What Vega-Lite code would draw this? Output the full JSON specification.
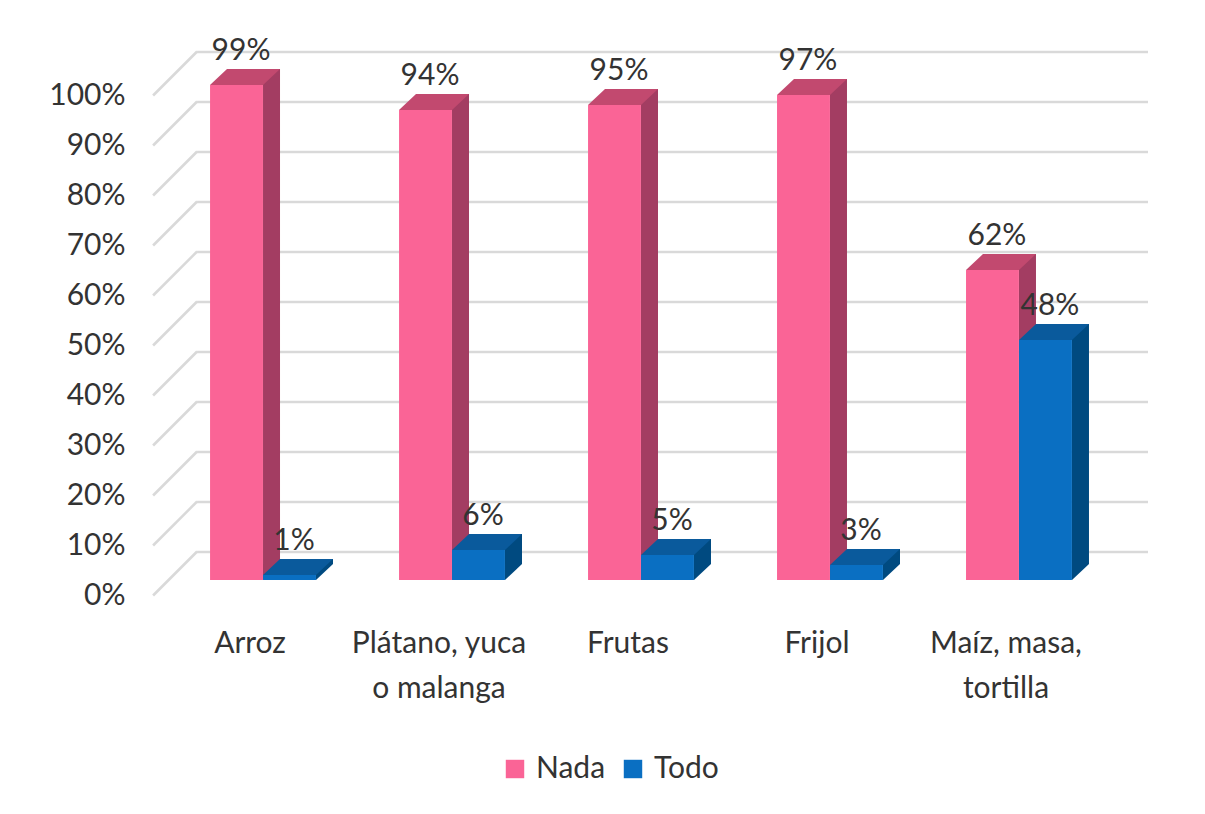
{
  "$schema": "https://vega.github.io/schema/vega-lite/v6.json",
  "width": 982,
  "height": 500,
  "autosize": {"type": "none"},
  "padding": {"left": 150, "top": 80, "right": 73, "bottom": 234},
  "background": "white",
  "config": {
    "font": "Lato",
    "view": {"stroke": null},
    "axis": {"labelFont": "Lato", "labelColor": "#333333", "labelFontSize": 30}
  },
  "datasets": {
    "bars": [
      {"alimento": "Arroz", "serie": "Nada", "valor": 0.99},
      {"alimento": "Arroz", "serie": "Todo", "valor": 0.01},
      {"alimento": "Plátano, yuca o malanga", "serie": "Nada", "valor": 0.94},
      {"alimento": "Plátano, yuca o malanga", "serie": "Todo", "valor": 0.06},
      {"alimento": "Frutas", "serie": "Nada", "valor": 0.95},
      {"alimento": "Frutas", "serie": "Todo", "valor": 0.05},
      {"alimento": "Frijol", "serie": "Nada", "valor": 0.97},
      {"alimento": "Frijol", "serie": "Todo", "valor": 0.03},
      {"alimento": "Maíz, masa, tortilla", "serie": "Nada", "valor": 0.62},
      {"alimento": "Maíz, masa, tortilla", "serie": "Todo", "valor": 0.48}
    ],
    "grid": [
      {"g": 0}, {"g": 0.1}, {"g": 0.2}, {"g": 0.3}, {"g": 0.4}, {"g": 0.5},
      {"g": 0.6}, {"g": 0.7}, {"g": 0.8}, {"g": 0.9}, {"g": 1}
    ]
  },
  "encoding": {
    "x": {
      "field": "alimento",
      "type": "nominal",
      "sort": null,
      "scale": {"domain": ["Arroz", "Plátano, yuca o malanga", "Frutas", "Frijol", "Maíz, masa, tortilla"], "paddingInner": 0.44, "paddingOuter": 0.318},
      "axis": {
        "title": null,
        "domain": false,
        "ticks": false,
        "labelAngle": 0,
        "labelPadding": 48,
        "labelOffset": -13,
        "labelBaseline": "top",
        "labelLineHeight": 45,
        "labelExpr": "datum.value == 'Plátano, yuca o malanga' ? ['Plátano, yuca', 'o malanga'] : datum.value == 'Maíz, masa, tortilla' ? ['Maíz, masa,', 'tortilla'] : datum.value"
      }
    }
  },
  "layer": [
    {
      "data": {"name": "grid"},
      "mark": {"type": "rule", "color": "#D9D9D9", "strokeWidth": 2.5, "yOffset": -28, "xOffset": -13, "x2Offset": 129},
      "encoding": {
        "x": {"datum": "Arroz", "bandPosition": 0},
        "x2": {"datum": "Maíz, masa, tortilla"},
        "y": {"field": "g", "type": "quantitative", "scale": {"domain": [0, 1], "nice": false},
          "axis": {"title": null, "domain": false, "ticks": false, "grid": false, "values": [0,0.1,0.2,0.3,0.4,0.5,0.6,0.7,0.8,0.9,1], "format": ".0%", "labelPadding": 25, "labelOffset": 15}}
      }
    },
    {
      "data": {"name": "grid"},
      "mark": {"type": "point", "shape": "M-1,1L1,-1", "size": 1936, "filled": false, "stroke": "#D9D9D9", "strokeWidth": 2.5, "opacity": 1, "xOffset": -35, "yOffset": -6.5},
      "encoding": {
        "x": {"datum": "Arroz", "bandPosition": 0},
        "y": {"field": "g", "type": "quantitative"}
      }
    },
    {
      "data": {"name": "bars"},
      "transform": [{"filter": "datum.serie == 'Nada'"}],
      "mark": {"type": "bar", "color": "#A33D62", "width": 17, "xOffset": 8.5, "yOffset": -16, "y2Offset": -16},
      "encoding": {"y": {"field": "valor", "type": "quantitative"}}
    },
    {
      "data": {"name": "bars"},
      "transform": [{"filter": "datum.serie == 'Nada'"}],
      "mark": {"type": "point", "shape": "M-1,0.941L-1,-0.941L1,-0.941Z", "size": 289, "filled": true, "opacity": 1, "strokeWidth": 0, "color": "#A33D62", "xOffset": 8.5, "yOffset": -8},
      "encoding": {"y": {"datum": 0}}
    },
    {
      "data": {"name": "bars"},
      "transform": [{"filter": "datum.serie == 'Nada'"}],
      "mark": {"type": "point", "shape": "M-1,0.2286L0.514,0.2286L1,-0.2286L-0.514,-0.2286Z", "size": 4900, "filled": true, "opacity": 1, "strokeWidth": 0, "color": "#C2496F", "xOffset": -18, "yOffset": -8},
      "encoding": {"y": {"field": "valor", "type": "quantitative"}}
    },
    {
      "data": {"name": "bars"},
      "transform": [{"filter": "datum.serie == 'Nada'"}],
      "mark": {"type": "bar", "width": {"band": 0.5}, "xOffset": -26.5},
      "encoding": {
        "y": {"field": "valor", "type": "quantitative"},
        "color": {"field": "serie", "type": "nominal",
          "scale": {"domain": ["Nada", "Todo"], "range": ["#FA6496", "#0A6FC2"]},
          "legend": {"title": null, "orient": "none", "legendX": 350, "legendY": 674, "direction": "horizontal",
            "symbolType": "square", "symbolSize": 340, "symbolStrokeWidth": 0, "labelFontSize": 30, "labelFont": "Lato", "labelColor": "#333333", "columnPadding": 12, "labelOffset": 6}}
      }
    },
    {
      "data": {"name": "bars"},
      "transform": [{"filter": "datum.serie == 'Todo'"}],
      "mark": {"type": "bar", "color": "#004A80", "width": 17, "xOffset": 61.5, "yOffset": -16, "y2Offset": -16},
      "encoding": {"y": {"field": "valor", "type": "quantitative"}}
    },
    {
      "data": {"name": "bars"},
      "transform": [{"filter": "datum.serie == 'Todo'"}],
      "mark": {"type": "point", "shape": "M-1,0.941L-1,-0.941L1,-0.941Z", "size": 289, "filled": true, "opacity": 1, "strokeWidth": 0, "color": "#004A80", "xOffset": 61.5, "yOffset": -8},
      "encoding": {"y": {"datum": 0}}
    },
    {
      "data": {"name": "bars"},
      "transform": [{"filter": "datum.serie == 'Todo'"}],
      "mark": {"type": "point", "shape": "M-1,0.2286L0.514,0.2286L1,-0.2286L-0.514,-0.2286Z", "size": 4900, "filled": true, "opacity": 1, "strokeWidth": 0, "color": "#0A5A9C", "xOffset": 35, "yOffset": -8},
      "encoding": {"y": {"field": "valor", "type": "quantitative"}}
    },
    {
      "data": {"name": "bars"},
      "transform": [{"filter": "datum.serie == 'Todo'"}],
      "mark": {"type": "bar", "width": {"band": 0.5}, "xOffset": 26.5},
      "encoding": {
        "y": {"field": "valor", "type": "quantitative"},
        "color": {"field": "serie", "type": "nominal"}
      }
    },
    {
      "data": {"name": "bars"},
      "transform": [{"filter": "datum.serie == 'Nada'"}],
      "mark": {"type": "text", "xOffset": -22, "dy": -34, "baseline": "middle", "fontSize": 30, "font": "Lato", "color": "#333333"},
      "encoding": {"y": {"field": "valor", "type": "quantitative"}, "text": {"field": "valor", "type": "quantitative", "format": ".0%"}}
    },
    {
      "data": {"name": "bars"},
      "transform": [{"filter": "datum.serie == 'Todo'"}],
      "mark": {"type": "text", "xOffset": 31, "dy": -34, "baseline": "middle", "fontSize": 30, "font": "Lato", "color": "#333333"},
      "encoding": {"y": {"field": "valor", "type": "quantitative"}, "text": {"field": "valor", "type": "quantitative", "format": ".0%"}}
    }
  ]
}
